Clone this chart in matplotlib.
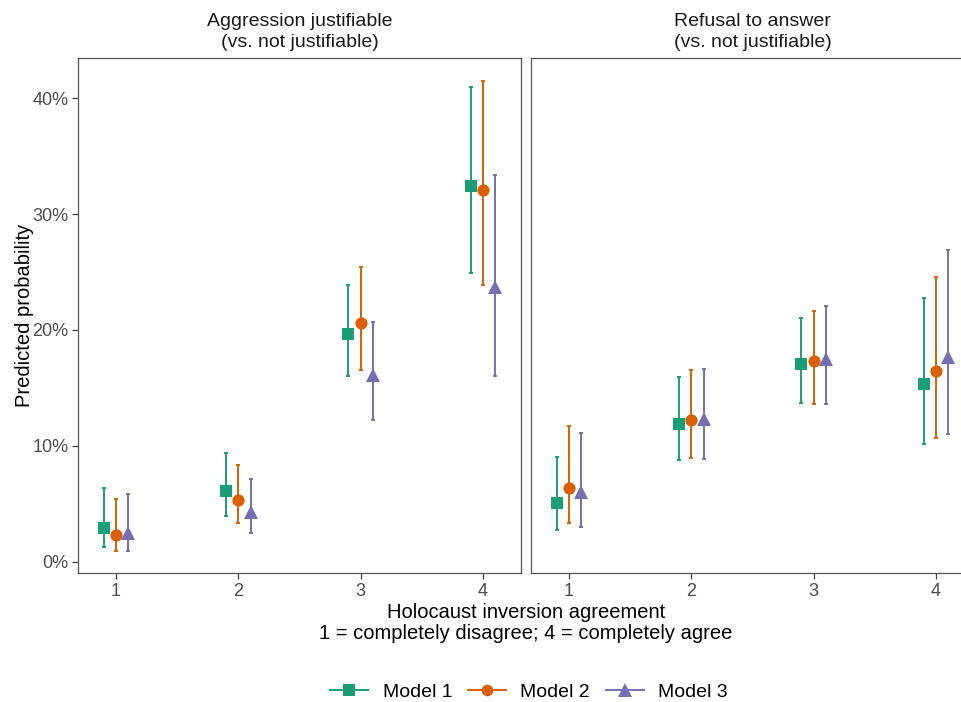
import matplotlib
matplotlib.use("Agg")
import matplotlib.pyplot as plt
from matplotlib.lines import Line2D
from matplotlib.ticker import FuncFormatter

plt.rcParams['font.family'] = ['Liberation Sans', 'DejaVu Sans']

levels = [1, 2, 3, 4]
panels = ["Aggression justifiable\n(vs. not justifiable)",
          "Refusal to answer\n(vs. not justifiable)"]
models = ["Model 1", "Model 2", "Model 3"]
colors = ["#1B9E77", "#D95F02", "#7570B3"]
markers = ["s", "o", "^"]
msizes = [8.6, 8.8, 10.5]

# Panel 1: Aggression justifiable (percent)
agg_est = [[2.96, 6.15, 19.68, 32.41],
           [2.33, 5.34, 20.63, 32.04],
           [2.47, 4.34, 16.12, 23.68]]
agg_lo = [[1.32, 3.99, 16.06, 24.91],
          [0.97, 3.39, 16.55, 23.88],
          [0.97, 2.53, 12.21, 16.00]]
agg_hi = [[6.41, 9.37, 23.85, 40.98],
          [5.46, 8.36, 25.43, 41.47],
          [5.86, 7.13, 20.72, 33.39]]

# Panel 2: Refusal to answer (percent)
ref_est = [[5.06, 11.93, 17.04, 15.38],
           [6.41, 12.27, 17.33, 16.50],
           [6.00, 12.36, 17.53, 17.70]]
ref_lo = [[2.79, 8.79, 13.68, 10.14],
          [3.39, 9.00, 13.65, 10.69],
          [3.05, 8.91, 13.62, 11.06]]
ref_hi = [[9.05, 15.95, 21.07, 22.73],
          [11.75, 16.52, 21.64, 24.57],
          [11.15, 16.67, 22.10, 26.90]]

offsets = [-0.1, 0.0, 0.1]

W, H = 961, 702
fig = plt.figure(figsize=(W / 100, H / 100), dpi=100)

def px_axes(x0, y0, x1, y1):
    return fig.add_axes([x0 / W, 1 - y1 / H, (x1 - x0) / W, (y1 - y0) / H])

ax1 = px_axes(78, 58, 521, 573)
ax2 = px_axes(531, 58, 974, 573)

data = [(agg_est, agg_lo, agg_hi), (ref_est, ref_lo, ref_hi)]
grey = "#4D4D4D"
for k, (ax, (est, lo, hi)) in enumerate(zip([ax1, ax2], data)):
    for m in range(3):
        xs = [l + offsets[m] for l in levels]
        yerr = [[e - a for e, a in zip(est[m], lo[m])],
                [b - e for e, b in zip(est[m], hi[m])]]
        ax.errorbar(xs, est[m], yerr=yerr, fmt='none', ecolor=colors[m],
                    elinewidth=1.4, capsize=1.6, capthick=1.4, zorder=2)
        ax.plot(xs, est[m], linestyle='none', marker=markers[m],
                markersize=msizes[m], color=colors[m], markeredgewidth=0,
                zorder=3)
    ax.set_xlim(0.69, 4.31)
    ax.set_ylim(-0.95, 43.45)
    ax.set_xticks(levels)
    ax.set_xticklabels([str(l) for l in levels])
    ax.set_yticks([0, 10, 20, 30, 40])
    ax.yaxis.set_major_formatter(FuncFormatter(lambda v, p: f"{v:.0f}%"))
    for s in ax.spines.values():
        s.set_color("#555555")
        s.set_linewidth(0.9)
    ax.tick_params(axis='both', direction='out', length=4, width=0.9,
                   color="#444444", labelcolor=grey, labelsize=13, pad=3)
    ax.set_title(panels[k], fontsize=14, color="#1A1A1A", pad=8,
                 linespacing=1.3)

ax2.tick_params(axis='y', left=False, labelleft=False)

fig.text(25 / W, 1 - 315 / H, "Predicted probability", rotation=90,
         ha='center', va='center', fontsize=14.5, color="black")
fig.text(526 / W, 1 - 623 / H,
         "Holocaust inversion agreement\n1 = completely disagree; 4 = completely agree",
         ha='center', va='center', fontsize=14.5, color="black", linespacing=1.15)

handles = [Line2D([0], [0], color=colors[m], marker=markers[m],
                  markersize=msizes[m] * 0.95, markeredgewidth=0, linewidth=1.4)
           for m in range(3)]
fig.legend(handles, models, loc='center', bbox_to_anchor=(529 / W, 1 - 692 / H),
           ncol=3, frameon=False, fontsize=14, handlelength=1.95,
           columnspacing=0.8, handletextpad=0.75)

fig.savefig("out.png", dpi=100)
